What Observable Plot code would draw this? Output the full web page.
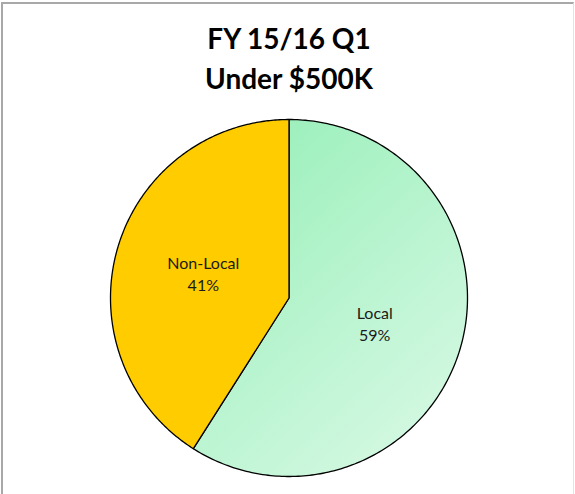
<!DOCTYPE html>
<html>
<head>
<meta charset="utf-8">
<script src="https://cdn.jsdelivr.net/npm/d3@7"></script>
<script src="https://cdn.jsdelivr.net/npm/@observablehq/plot@0.6"></script>
<style>
  html, body { margin: 0; padding: 0; background: #fff; }
  #wrap {
    position: relative; width: 575px; height: 494px; overflow: hidden; background: #fff;
  }
  #frame {
    position: absolute; left: 1px; top: 2px; width: 573px; height: 500px; box-sizing: border-box;
    border-left: 2px solid #a8a8a8; border-top: 2px solid #a8a8a8; border-right: 1px solid #e4e4e4;
    pointer-events: none;
  }
  #chart { position: absolute; left: 0; top: 0; }
</style>
</head>
<body>
<div id="wrap"><div id="chart"></div><div id="frame"></div></div>
<script>
// ---- data ----
const categories = ["Local", "Non-Local"];
const shares = [59, 41];
const titleLines = ["FY 15/16 Q1", "Under $500K"];

// ---- styles ----
const sliceFills = {"Local": "url(#localGrad)", "Non-Local": "#FFCC00"};
const fontFamily = "Lato, 'Open Sans', sans-serif";

const data = categories.map((c, i) => ({category: c, value: shares[i]}));
const arcs = d3.pie().sort(null).value(d => d.value)(data);

function slicePolygon(a) {
  const pts = [{x: 0, y: 0}];
  const n = 240;
  for (let k = 0; k <= n; ++k) {
    const t = a.startAngle + (a.endAngle - a.startAngle) * k / n;
    pts.push({x: Math.sin(t), y: Math.cos(t)});
  }
  pts.push({x: 0, y: 0});
  return pts;
}

const labels = arcs.map(a => {
  const m = (a.startAngle + a.endAngle) / 2;
  return {x: 0.5 * Math.sin(m), y: 0.5 * Math.cos(m), text: `${a.data.category}\n${Math.round(a.data.value)}%`};
});

const marks = arcs.map(a => Plot.line(slicePolygon(a), {
  x: "x", y: "y", curve: "linear",
  fill: sliceFills[a.data.category], stroke: "#000", strokeWidth: 1.3, strokeLinejoin: "round"
}));
marks.push(Plot.text(labels, {
  x: "x", y: "y", text: "text", fontSize: 16, fontFamily, lineHeight: 1.375, fill: "#1a1a1a"
}));
marks.push(Plot.text([titleLines.join("\n")], {
  frameAnchor: "top", dy: -31, lineAnchor: "bottom", text: d => d,
  fontSize: 28, fontWeight: "bold", fontFamily, lineHeight: 1.4, fill: "#000"
}));

const chart = Plot.plot({
  width: 575, height: 494,
  marginLeft: 110, marginRight: 108, marginTop: 119, marginBottom: 18,
  x: {domain: [-1, 1], axis: null},
  y: {domain: [-1, 1], axis: null},
  style: {background: "transparent", overflow: "visible"},
  marks
});

const svg = d3.select(chart);
const defs = svg.insert("defs", ":first-child");
const g = defs.append("linearGradient").attr("id", "localGrad")
  .attr("x1", "0.15").attr("y1", "0").attr("x2", "0.85").attr("y2", "1");
g.append("stop").attr("offset", "0").attr("stop-color", "#98EFB9");
g.append("stop").attr("offset", "1").attr("stop-color", "#D8F9E5");

document.getElementById("chart").appendChild(chart);
</script>
</body>
</html>
